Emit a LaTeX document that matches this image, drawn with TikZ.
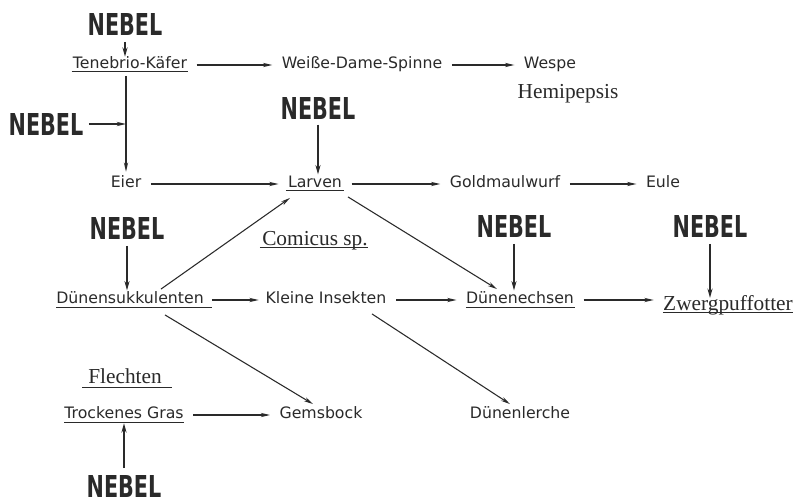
\documentclass[tikz,border=0pt]{standalone}
\usepackage{graphicx}
\usepackage{fontspec}
\setmainfont{Liberation Serif}
\newfontfamily\labfont{DejaVu Sans}
\newfontfamily\nebfont{DejaVu Sans}
\usetikzlibrary{arrows.meta,calc}
\definecolor{ink}{HTML}{2A2A2A}
\newcommand{\nebtext}{\resizebox{56pt}{16.5pt}{\nebfont\bfseries NEBEL}}
\begin{document}
\begin{tikzpicture}[x=0.75pt,y=-0.75pt,
  lab/.style={font=\labfont\fontsize{11.8}{13}\selectfont, text=ink, inner sep=0pt, text height=0.75em, text depth=0.25em},
  ser/.style={font=\fontsize{16}{18}\selectfont, text=ink, inner sep=0pt, text height=0.7em, text depth=0.22em},
  neb/.style={text=ink, inner sep=0pt},
  arr/.style={draw=ink, line width=0.8pt, -{Stealth[length=7pt,width=3.2pt]}, shorten <=7pt, shorten >=7pt},
  varr/.style={draw=ink, line width=1.3pt, -{Stealth[length=7pt,width=3.8pt]}, shorten <=5pt, shorten >=2pt},
  ul/.style={draw=ink, line width=0.8pt}]
\useasboundingbox[fill=white] (0,0) rectangle (797,503);

% nodes
\node[neb] (neb1) at (125,24) {\nebtext};
\node[lab] (teneb) at (130,65) {Tenebrio-Käfer};
\node[lab] (weiss) at (362,65) {Weiße-Dame-Spinne};
\node[lab] (wespe) at (550,65) {Wespe};
\node[ser] (hemi) at (568,95) {Hemipepsis};
\node[neb] (neb2) at (46,124) {\nebtext};
\node[lab] (eier) at (126,184) {Eier};
\node[neb] (neb3) at (318,108) {\nebtext};
\node[lab] (larven) at (315,184) {Larven};
\node[lab] (gold) at (505,184) {Goldmaulwurf};
\node[lab] (eule) at (663,184) {Eule};
\node[neb] (neb4) at (127,228) {\nebtext};
\node[ser] (comicus) at (315,242) {Comicus sp.};
\node[lab] (duen) at (130,300) {Dünensukkulenten};
\node[lab] (klein) at (326,300) {Kleine Insekten};
\node[lab] (dech) at (520,300) {Dünenechsen};
\node[neb] (neb5) at (514,226) {\nebtext};
\node[ser] (zwerg) at (728,307) {Zwergpuffotter};
\node[neb] (neb6) at (710,226) {\nebtext};
\node[ser] (flechten) at (125,380) {Flechten};
\node[lab] (trock) at (124,415) {Trockenes Gras};
\node[lab] (gems) at (321,415) {Gemsbock};
\node[lab] (lerche) at (520,415) {Dünenlerche};
\node[neb] (neb7) at (124,486) {\nebtext};

% underlines
\draw[ul] ($(teneb.south west)+(-1,0)$) -- ($(teneb.south east)+(1,0)$);
\draw[ul] ($(larven.south west)+(-2,0)$) -- ($(larven.south east)+(2,0)$);
\draw[ul] ($(duen.south west)+(0,1)$) -- ($(duen.south east)+(8,1)$);
\draw[ul] ($(dech.south west)+(0,1)$) -- ($(dech.south east)+(1,1)$);
\draw[ul] ($(zwerg.south west)+(0,-1)$) -- ($(zwerg.south east)+(0,-1)$);
\draw[ul] ($(comicus.south west)+(-2,-1)$) -- ($(comicus.south east)+(0,-1)$);
\draw[ul] ($(flechten.south west)+(-6,1)$) -- ($(flechten.south east)+(10,1)$);
\draw[ul] ($(trock.south west)+(0,1)$) -- ($(trock.south east)+(0,1)$);

% vertical NEBEL arrows
\draw[varr, shorten <=5pt, shorten >=1pt] (neb1.south) -- (neb1.south |- teneb.north);
\draw[varr, shorten <=4pt] (neb3.south) -- (neb3.south |- larven.north);
\draw[varr] (neb4.south) -- (neb4.south |- duen.north);
\draw[varr] (neb5.south) -- (neb5.south |- dech.north);
\draw[varr] (neb6.south) -- (neb6.south |- zwerg.north);
\draw[varr, shorten <=5pt, shorten >=1pt] (neb7.north) -- (neb7.north |- trock.south);

% Tenebrio -> Eier with NEBEL junction
\coordinate (j) at (eier |- neb2);
\draw[arr, shorten <=3pt, shorten >=4pt] (eier |- teneb.south) -- (eier.north);
\draw[arr, line width=1.1pt, shorten <=4pt, shorten >=0pt] (neb2) -- (j);

% horizontal arrows
\draw[arr] (teneb) -- (weiss);
\draw[arr] (weiss) -- (wespe);
\draw[arr] (eier) -- (larven);
\draw[arr] (larven) -- (gold);
\draw[arr] (gold) -- (eule);
\draw[arr, shorten <=6pt, shorten >=5pt] (duen) -- (klein);
\draw[arr] (klein) -- (dech);
\draw[arr] (dech.east) -- (dech.east -| zwerg.west);
\draw[arr] (trock) -- (gems);

% diagonal arrows
\draw[arr, shorten <=0pt, shorten >=0pt] ($(duen.north)+(31,-4)$) -- ($(larven.south)+(-25,7)$);
\draw[arr, shorten <=0pt, shorten >=0pt] ($(larven.south)+(33,6)$) -- ($(dech.north)+(-23,-4)$);
\draw[arr, shorten <=0pt, shorten >=0pt] ($(duen.south)+(35,8)$) -- ($(gems.north)+(-8,-4)$);
\draw[arr, shorten <=0pt, shorten >=0pt] ($(klein.south)+(46,7)$) -- ($(lerche.north)+(-10,-4)$);
\end{tikzpicture}
\end{document}
